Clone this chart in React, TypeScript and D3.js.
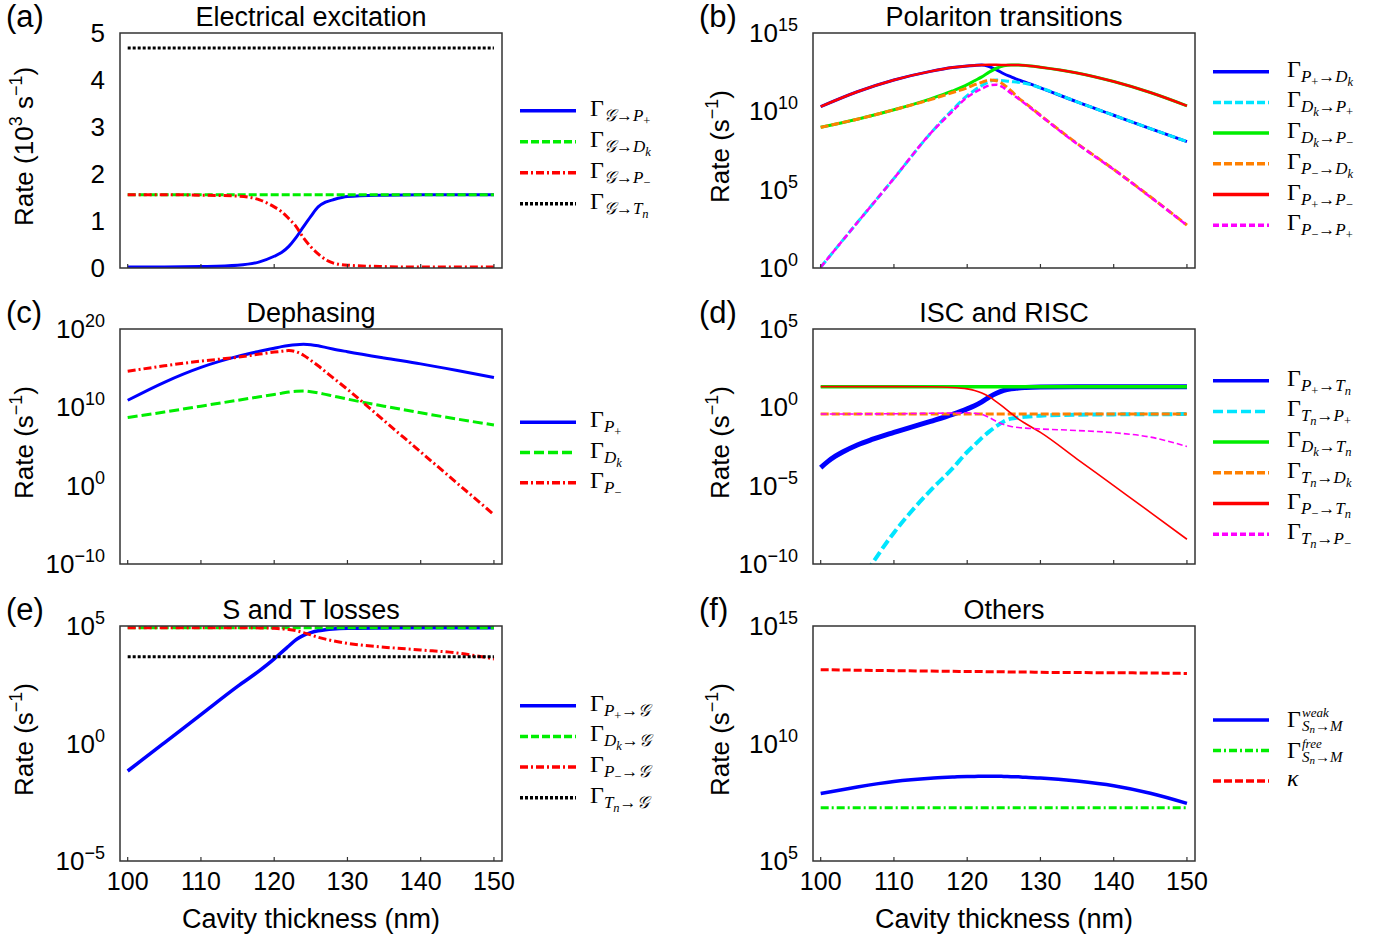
import React from "react";
import * as d3 from "d3";

// cavity thickness (nm) sample points
const thickness = [100, 105, 110, 115, 118, 120, 121, 122, 123, 124, 125, 126, 127, 128, 130, 135, 140, 145, 150];
const ends = [100, 150];
const xTicks = [100, 110, 120, 130, 140, 150];

// (a) electrical excitation, 10^3 s^-1
const excToPplus = [0.02, 0.02, 0.03, 0.06, 0.13, 0.25, 0.33, 0.46, 0.65, 0.88, 1.1, 1.3, 1.4, 1.45, 1.52, 1.55, 1.56, 1.56, 1.56];
const excToDk = [1.56, 1.56];
const excToPminus = [1.56, 1.56, 1.55, 1.53, 1.45, 1.3, 1.2, 1.05, 0.88, 0.64, 0.45, 0.3, 0.18, 0.11, 0.06, 0.03, 0.02, 0.02, 0.02];
const excToTn = [4.68, 4.68];
const linTicks = [0, 1, 2, 3, 4, 5];

// (b) polariton transitions, log10 of rate
const bPplusDk = [10.3, 11.25, 12.0, 12.55, 12.8, 12.9, 12.93, 12.95, 12.85, 12.65, 12.4, 12.2, 12.0, 11.85, 11.5, 10.6, 9.75, 8.9, 8.07];
const bDkPplus = [0.05, 2.9, 5.72, 8.6, 10.1, 11.0, 11.35, 11.65, 11.9, 12.0, 11.95, 11.9, 11.85, 11.78, 11.5, 10.6, 9.75, 8.9, 8.07];
const bDkPminus = [8.98, 9.5, 10.1, 10.8, 11.3, 11.7, 11.95, 12.2, 12.5, 12.75, 12.9, 12.95, 12.95, 12.93, 12.82, 12.45, 11.9, 11.2, 10.35];
const bPminusDk = [8.98, 9.5, 10.1, 10.75, 11.2, 11.5, 11.7, 11.85, 12.0, 11.95, 11.7, 11.3, 10.85, 10.5, 9.75, 7.95, 6.3, 4.55, 2.74];
const bPplusPminus = [10.3, 11.25, 12.0, 12.55, 12.8, 12.9, 12.93, 12.96, 12.97, 12.97, 12.96, 12.95, 12.95, 12.93, 12.82, 12.45, 11.9, 11.2, 10.35];
const bPminusPplus = [0.05, 2.9, 5.72, 8.6, 10.0, 10.9, 11.2, 11.45, 11.65, 11.7, 11.5, 11.15, 10.8, 10.45, 9.72, 7.92, 6.28, 4.53, 2.72];

// (c) dephasing
const cPplus = [10.9, 13.2, 15.1, 16.5, 17.15, 17.55, 17.75, 17.9, 18.0, 18.05, 18.0, 17.85, 17.65, 17.45, 17.1, 16.3, 15.55, 14.7, 13.8];
const cDk = [8.7, 9.4, 10.15, 10.9, 11.35, 11.65, 11.8, 11.95, 12.05, 12.1, 12.0, 11.85, 11.65, 11.45, 11.05, 10.15, 9.3, 8.5, 7.75];
const cPminus = [14.6, 15.3, 15.9, 16.4, 16.8, 17.05, 17.15, 17.25, 17.1, 16.65, 16.0, 15.3, 14.55, 13.8, 12.3, 8.3, 4.3, 0.3, -3.7];

// (d) ISC and RISC
const dThick = [100, 101, 102, 103, 105, 107, 110, 115, 118, 120, 121, 122, 123, 124, 125, 126, 127, 128, 130, 135, 150];
const dPplusTn = [-3.85, -3.45, -3.12, -2.85, -2.4, -2.05, -1.6, -0.9, -0.45, -0.1, 0.1, 0.35, 0.65, 0.9, 1.08, 1.18, 1.24, 1.27, 1.3, 1.32, 1.32];
const dTnPplus = [-15, -11.4, -8.0, -5.3, -3.9, -2.85, -2.4, -1.95, -1.55, -1.2, -0.9, -0.72, -0.65, -0.6, -0.53, -0.47, -0.45, -0.44, -0.43];
const dDkTn = [1.32, 1.32];
const dTnDk = [-0.43, -0.43];
const dPminusTn = [1.32, 1.32, 1.32, 1.31, 1.27, 1.18, 1.08, 0.92, 0.68, 0.35, 0.0, -0.38, -0.75, -1.05, -1.6, -3.3, -5.0, -6.7, -8.42];
const dTnPminus = [-0.43, -0.42, -0.41, -0.38, -0.36, -0.35, -0.38, -0.45, -0.65, -0.9, -1.1, -1.22, -1.29, -1.33, -1.38, -1.48, -1.62, -1.9, -2.5];

// (e) S and T losses
const ePplusG = [-1.17, 0.03, 1.23, 2.43, 3.1, 3.6, 3.88, 4.15, 4.42, 4.6, 4.72, 4.8, 4.84, 4.87, 4.9, 4.92, 4.93, 4.93, 4.93];
const eDkG = [4.93, 4.93];
const ePminusG = [4.93, 4.93, 4.93, 4.93, 4.92, 4.9, 4.88, 4.85, 4.8, 4.72, 4.62, 4.52, 4.44, 4.37, 4.26, 4.1, 3.98, 3.85, 3.6];
const eTnG = [3.69, 3.69];

// (f) others
const fWeak = [7.87, 8.15, 8.38, 8.52, 8.57, 8.6, 8.6, 8.61, 8.61, 8.61, 8.6, 8.59, 8.58, 8.56, 8.53, 8.4, 8.2, 7.88, 7.45];
const fFree = [7.27, 7.27];
const fKappa = [13.14, 13.12, 13.1, 13.08, 13.07, 13.06, 13.06, 13.06, 13.05, 13.05, 13.05, 13.04, 13.04, 13.04, 13.03, 13.02, 13.01, 13.0, 12.98];

const SANS = "'Liberation Sans', Arial, Helvetica, sans-serif";
const SERIF = "'Liberation Serif', 'DejaVu Serif', 'Times New Roman', serif";

const BLUE = "#0000ff", GREEN = "#00ee00", RED = "#ff0000", BLACK = "#000000";
const CYAN = "#00e5ff", ORANGE = "#ff8000", MAGENTA = "#ff00ff";
const DASH = "8,3", DASHDOT = "8,3,2,3", DOT = "3,2";

// subscript helper for the legend math
const tok = (s) => {
  const m = {
    "P+": [["P", 1, true], ["+", 2]],
    "P-": [["P", 1, true], ["\u2212", 2]],
    Dk: [["D", 1, true], ["k", 2, true]],
    Tn: [["T", 1, true], ["n", 2, true]],
    G: [["\u{1D4A2}", 1, true]],
    Sn: [["S", 1, true], ["n", 2, true]],
    M: [["M", 1, true]],
  };
  return m[s];
};
const gam = (a, b?) => (b ? [["\u0393", 0], ...tok(a), ["\u2192", 1], ...tok(b)] : [["\u0393", 0], ...tok(a)]);

const colX = [120, 813];
const rowY = [33, 329, 626];
const boxW = 382, boxH = 235;

const panels = [
  {
    id: "a", letter: "(a)", title: "Electrical excitation", col: 0, row: 0, log: false, dom: [0, 5],
    leg0: 110.7, legStep: 31,
    series: [
      { x: thickness, v: excToPplus, c: BLUE, w: 3, d: null, lab: gam("G", "P+") },
      { x: ends, v: excToDk, c: GREEN, w: 3, d: DASH, lab: gam("G", "Dk") },
      { x: thickness, v: excToPminus, c: RED, w: 3, d: DASHDOT, lab: gam("G", "P-") },
      { x: ends, v: excToTn, c: BLACK, w: 3, d: DOT, lab: gam("G", "Tn") },
    ],
  },
  {
    id: "b", letter: "(b)", title: "Polariton transitions", col: 1, row: 0, log: true, dom: [0, 15], ticks: [0, 5, 10, 15],
    leg0: 71.7, legStep: 30.7,
    series: [
      { x: thickness, v: bPplusDk, c: BLUE, w: 3, d: null, lab: gam("P+", "Dk") },
      { x: thickness, v: bDkPplus, c: CYAN, w: 3, d: DASH, lab: gam("Dk", "P+") },
      { x: thickness, v: bDkPminus, c: GREEN, w: 3, d: null, lab: gam("Dk", "P-") },
      { x: thickness, v: bPminusDk, c: ORANGE, w: 3, d: DASH, lab: gam("P-", "Dk") },
      { x: thickness, v: bPplusPminus, c: RED, w: 2.5, d: null, lab: gam("P+", "P-") },
      { x: thickness, v: bPminusPplus, c: MAGENTA, w: 2.5, d: "6,3", lab: gam("P-", "P+") },
    ],
  },
  {
    id: "c", letter: "(c)", title: "Dephasing", col: 0, row: 1, log: true, dom: [-10, 20], ticks: [-10, 0, 10, 20],
    leg0: 422.3, legStep: 30.2,
    series: [
      { x: thickness, v: cPplus, c: BLUE, w: 3, d: null, lab: gam("P+") },
      { x: thickness, v: cDk, c: GREEN, w: 3, d: "10,4", lab: gam("Dk") },
      { x: thickness, v: cPminus, c: RED, w: 3, d: DASHDOT, lab: gam("P-") },
    ],
  },
  {
    id: "d", letter: "(d)", title: "ISC and RISC", col: 1, row: 1, log: true, dom: [-10, 5], ticks: [-10, -5, 0, 5],
    leg0: 380.7, legStep: 30.7,
    series: [
      { x: dThick, v: dPplusTn, c: BLUE, w: 5, d: null, lab: gam("P+", "Tn") },
      { x: thickness, v: dTnPplus, c: CYAN, w: 4, d: "10,4", lab: gam("Tn", "P+") },
      { x: ends, v: dDkTn, c: GREEN, w: 3.5, d: null, lab: gam("Dk", "Tn") },
      { x: ends, v: dTnDk, c: ORANGE, w: 3, d: DASH, lab: gam("Tn", "Dk") },
      { x: thickness, v: dPminusTn, c: RED, w: 1.6, d: null, lab: gam("P-", "Tn") },
      { x: thickness, v: dTnPminus, c: MAGENTA, w: 1.6, d: "6,3", lab: gam("Tn", "P-") },
    ],
  },
  {
    id: "e", letter: "(e)", title: "S and T losses", col: 0, row: 2, log: true, dom: [-5, 5], ticks: [-5, 0, 5],
    leg0: 705.7, legStep: 30.7,
    series: [
      { x: thickness, v: ePplusG, c: BLUE, w: 3.5, d: null, lab: gam("P+", "G") },
      { x: ends, v: eDkG, c: GREEN, w: 3, d: DASH, lab: gam("Dk", "G") },
      { x: thickness, v: ePminusG, c: RED, w: 3, d: DASHDOT, lab: gam("P-", "G") },
      { x: ends, v: eTnG, c: BLACK, w: 3, d: DOT, lab: gam("Tn", "G") },
    ],
  },
  {
    id: "f", letter: "(f)", title: "Others", col: 1, row: 2, log: true, dom: [5, 15], ticks: [5, 10, 15],
    leg0: 720, legStep: 30.5,
    series: [
      { x: thickness, v: fWeak, c: BLUE, w: 3.5, d: null, lab: [["\u0393", 0], ...tok("Sn"), ["\u2192", 1], ...tok("M")], sup: "weak" },
      { x: ends, v: fFree, c: GREEN, w: 3, d: DASHDOT, lab: [["\u0393", 0], ...tok("Sn"), ["\u2192", 1], ...tok("M")], sup: "free" },
      { x: thickness, v: fKappa, c: RED, w: 3, d: DASH, lab: [["\u03BA", 0, true]] },
    ],
  },
];

const OFF = [0, 5, 9];
const SZ = [24, 17, 12.5];
const OFF_SUP = [0, 4, 6];
const SZ_SUP = [24, 15, 11];

// Gamma with sub (and optional super) scripts, one text element per row
const MathLabel = ({ x, y, parts, sup }) => {
  const base = sup ? y + 2 : y;
  const off = sup ? OFF_SUP : OFF;
  const sz = sup ? SZ_SUP : SZ;
  const [head, ...rest] = parts;
  return (
    <text x={x} y={base} fontFamily={SERIF} fill="#000">
      <tspan fontSize={sz[head[1]]} fontStyle={head[2] ? "italic" : "normal"}>
        {head[0]}
      </tspan>
      {sup && (
        <tspan x={x + 15} y={base - 10} fontSize={13} fontStyle="italic">
          {sup}
        </tspan>
      )}
      {rest.map(([t, l, it], i) => (
        <tspan
          key={i}
          x={sup && i === 0 ? x + 15 : undefined}
          y={base + off[l]}
          fontSize={sz[l]}
          fontStyle={it ? "italic" : "normal"}
        >
          {t}
        </tspan>
      ))}
    </text>
  );
};

const Panel = ({ p }) => {
  const left = colX[p.col], top = rowY[p.row];
  const x = d3.scaleLinear().domain([98.95, 151.1]).range([left, left + boxW]);
  const y = p.log
    ? d3.scaleLog().domain([10 ** p.dom[0], 10 ** p.dom[1]]).range([top + boxH, top])
    : d3.scaleLinear().domain(p.dom).range([top + boxH, top]);
  const val = (v) => (p.log ? 10 ** v : v);
  const line = d3
    .line()
    .x((d) => x(d[0]))
    .y((d) => y(val(d[1])))
    .curve(d3.curveMonotoneX);
  const legLineX = p.col === 0 ? [520, 576] : [1213, 1269];
  const legTextX = p.col === 0 ? 590 : 1287;
  const lblX = p.col === 0 ? 33 : 729;
  const tickRight = left - 15;
  const cy = top + boxH / 2;
  return (
    <g>
      <defs>
        <clipPath id={`clip-${p.id}`}>
          <rect x={left} y={top} width={boxW} height={boxH} />
        </clipPath>
      </defs>
      <text x={p.col === 0 ? 6 : 699} y={top - 6} fontSize={31} fontFamily={SANS}>
        {p.letter}
      </text>
      <text x={left + boxW / 2} y={top - 7} fontSize={27} fontFamily={SANS} textAnchor="middle">
        {p.title}
      </text>
      <g clipPath={`url(#clip-${p.id})`}>
        {p.series.map((s, i) => (
          <path
            key={i}
            d={line(s.x.map((t, k) => [t, s.v[k]]))}
            fill="none"
            stroke={s.c}
            strokeWidth={s.w}
            strokeDasharray={s.d || undefined}
          />
        ))}
      </g>
      <rect x={left} y={top} width={boxW} height={boxH} fill="none" stroke="#333" strokeWidth={1.5} />
      {xTicks.map((t) => (
        <line key={t} x1={x(t)} x2={x(t)} y1={top + boxH} y2={top + boxH - 4} stroke="#333" strokeWidth={1.2} />
      ))}
      {p.row === 2 &&
        xTicks.map((t) => (
          <text key={t} x={x(t)} y={890} fontSize={25} fontFamily={SANS} textAnchor="middle">
            {t}
          </text>
        ))}
      {p.row === 2 && (
        <text x={left + boxW / 2} y={928} fontSize={27} fontFamily={SANS} textAnchor="middle">
          Cavity thickness (nm)
        </text>
      )}
      {p.log
        ? p.ticks.map((t) => (
            <text key={t} x={tickRight} y={y(10 ** t) + 9} fontFamily={SANS} textAnchor="end">
              <tspan fontSize={26}>10</tspan>
              <tspan fontSize={18} dy={-11}>
                {t < 0 ? `\u2212${-t}` : t}
              </tspan>
            </text>
          ))
        : linTicks.map((t) => (
            <text key={t} x={tickRight} y={y(t) + 9} fontSize={26} fontFamily={SANS} textAnchor="end">
              {t}
            </text>
          ))}
      <text transform={`translate(${lblX},${cy - 4}) rotate(-90)`} fontSize={26} fontFamily={SANS} textAnchor="middle">
        {p.log ? (
          <>
            <tspan>Rate (s</tspan>
            <tspan fontSize={18} dy={-11}>{"\u22121"}</tspan>
            <tspan dy={11}>)</tspan>
          </>
        ) : (
          <>
            <tspan>Rate (10</tspan>
            <tspan fontSize={18} dy={-11}>3</tspan>
            <tspan dy={11}> s</tspan>
            <tspan fontSize={18} dy={-11}>{"\u22121"}</tspan>
            <tspan dy={11}>)</tspan>
          </>
        )}
      </text>
      {p.series.map((s, i) => {
        const ry = p.leg0 + i * p.legStep;
        return (
          <g key={i}>
            <line x1={legLineX[0]} x2={legLineX[1]} y1={ry} y2={ry} stroke={s.c} strokeWidth={3.5} strokeDasharray={s.d || undefined} />
            <MathLabel x={legTextX} y={ry + 5} parts={s.lab} sup={s.sup} />
          </g>
        );
      })}
    </g>
  );
};

export default function App() {
  return (
    <svg width={1398} height={942} style={{ position: "absolute", left: 0, top: 0, background: "#fff" }}>
      <rect width={1398} height={942} fill="#fff" />
      {panels.map((p) => (
        <Panel key={p.id} p={p} />
      ))}
    </svg>
  );
}
